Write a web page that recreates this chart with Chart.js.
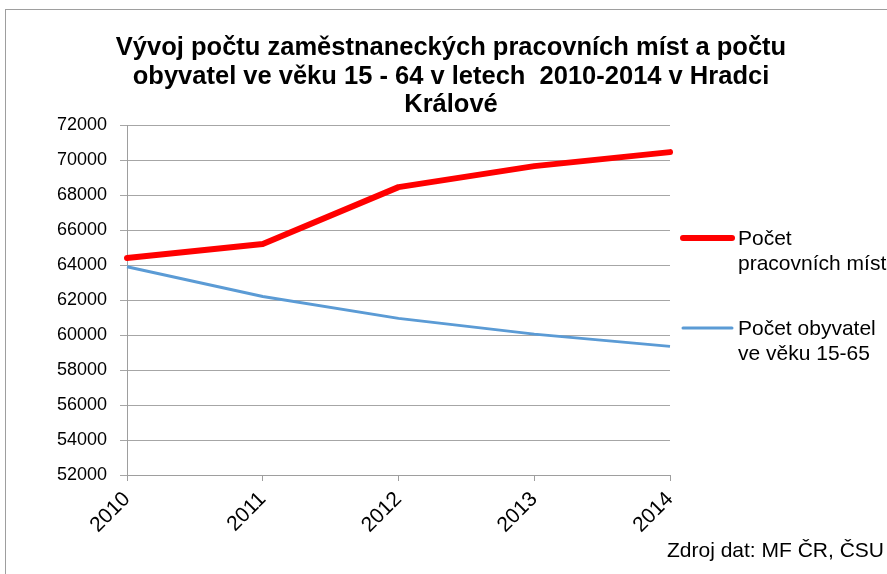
<!DOCTYPE html>
<html>
<head>
<meta charset="utf-8">
<style>
  html, body { margin: 0; padding: 0; background: #fff; }
  #wrap { position: relative; width: 887px; height: 574px; overflow: hidden; }
  #frame { position: absolute; left: 5px; top: 9px; width: 900px; height: 600px; border-left: 1px solid #9e9e9e; border-top: 1px solid #9e9e9e; pointer-events: none; }
  canvas { position: absolute; left: 0; top: 0; }
</style>
<script src="https://cdn.jsdelivr.net/npm/chart.js@4"></script>
</head>
<body>
<div id="wrap">
  <canvas id="c" width="887" height="574"></canvas>
  <div id="frame"></div>
</div>
<script>
const categories = ['2010', '2011', '2012', '2013', '2014'];
const jobs = [64400, 65200, 68450, 69650, 70450];
const population = [63900, 62200, 60950, 60050, 59350];
const seriesLabels = ['Počet\npracovních míst', 'Počet obyvatel\nve věku 15-65'];
const titleLines = ['Vývoj počtu zaměstnaneckých pracovních míst a počtu', 'obyvatel ve věku 15 - 64 v letech  2010-2014 v Hradci', 'Králové'];
const sourceText = 'Zdroj dat: MF ČR, ČSU';

const FONT = '"Liberation Sans", Arial, sans-serif';

const decor = {
  id: 'decor',
  afterDraw(chart) {
    const ctx = chart.ctx;
    ctx.save();
    // title
    ctx.fillStyle = '#000';
    ctx.font = 'bold 25.5px ' + FONT;
    ctx.textAlign = 'center';
    ctx.textBaseline = 'middle';
    const ty = [48, 77, 105];
    titleLines.forEach((t, i) => ctx.fillText(t, 451, ty[i]));
    // legend
    const ly = [238, 328];
    chart.data.datasets.forEach((ds, i) => {
      ctx.strokeStyle = ds.borderColor;
      ctx.lineWidth = ds.borderWidth;
      ctx.lineCap = 'round';
      ctx.beginPath();
      ctx.moveTo(683, ly[i]);
      ctx.lineTo(732, ly[i]);
      ctx.stroke();
      ctx.fillStyle = '#000';
      ctx.font = '21px ' + FONT;
      ctx.textAlign = 'left';
      ctx.textBaseline = 'middle';
      ds.label.split('\n').forEach((line, j) => ctx.fillText(line, 738, ly[i] + 1 + j * 25));
    });
    // source
    ctx.font = '21px ' + FONT;
    ctx.textAlign = 'left';
    ctx.fillText(sourceText, 667, 551);
    ctx.restore();
  }
};

new Chart(document.getElementById('c'), {
  type: 'line',
  data: {
    labels: categories,
    datasets: [
      { label: seriesLabels[0], data: jobs, borderColor: '#ff0000', backgroundColor: '#ff0000', borderWidth: 6, pointRadius: 0, tension: 0, borderJoinStyle: 'round', borderCapStyle: 'round' },
      { label: seriesLabels[1], data: population, borderColor: '#5b9bd5', backgroundColor: '#5b9bd5', borderWidth: 3, pointRadius: 0, tension: 0, borderJoinStyle: 'round' }
    ]
  },
  options: {
    responsive: false,
    animation: false,
    layout: { padding: { left: 0, top: 125, right: 217, bottom: 0 } },
    plugins: { legend: { display: false }, title: { display: false }, tooltip: { enabled: false } },
    scales: {
      x: {
        offset: false,
        grid: { display: true, drawOnChartArea: false, drawTicks: true, tickLength: 6, color: '#9e9e9e' },
        border: { color: '#9e9e9e' },
        ticks: { minRotation: 45, maxRotation: 45, color: '#000', font: { family: FONT, size: 21 }, padding: 6 },
        afterFit(s) { s.height = 99; }
      },
      y: {
        min: 52000, max: 72000,
        grid: { color: '#a6a6a6', tickLength: 7 },
        border: { color: '#9e9e9e' },
        ticks: { stepSize: 2000, color: '#000', font: { family: FONT, size: 18 }, padding: 13, callback: v => String(v) },
        afterFit(s) { s.width = 127; }
      }
    }
  },
  plugins: [decor]
});
</script>
</body>
</html>
